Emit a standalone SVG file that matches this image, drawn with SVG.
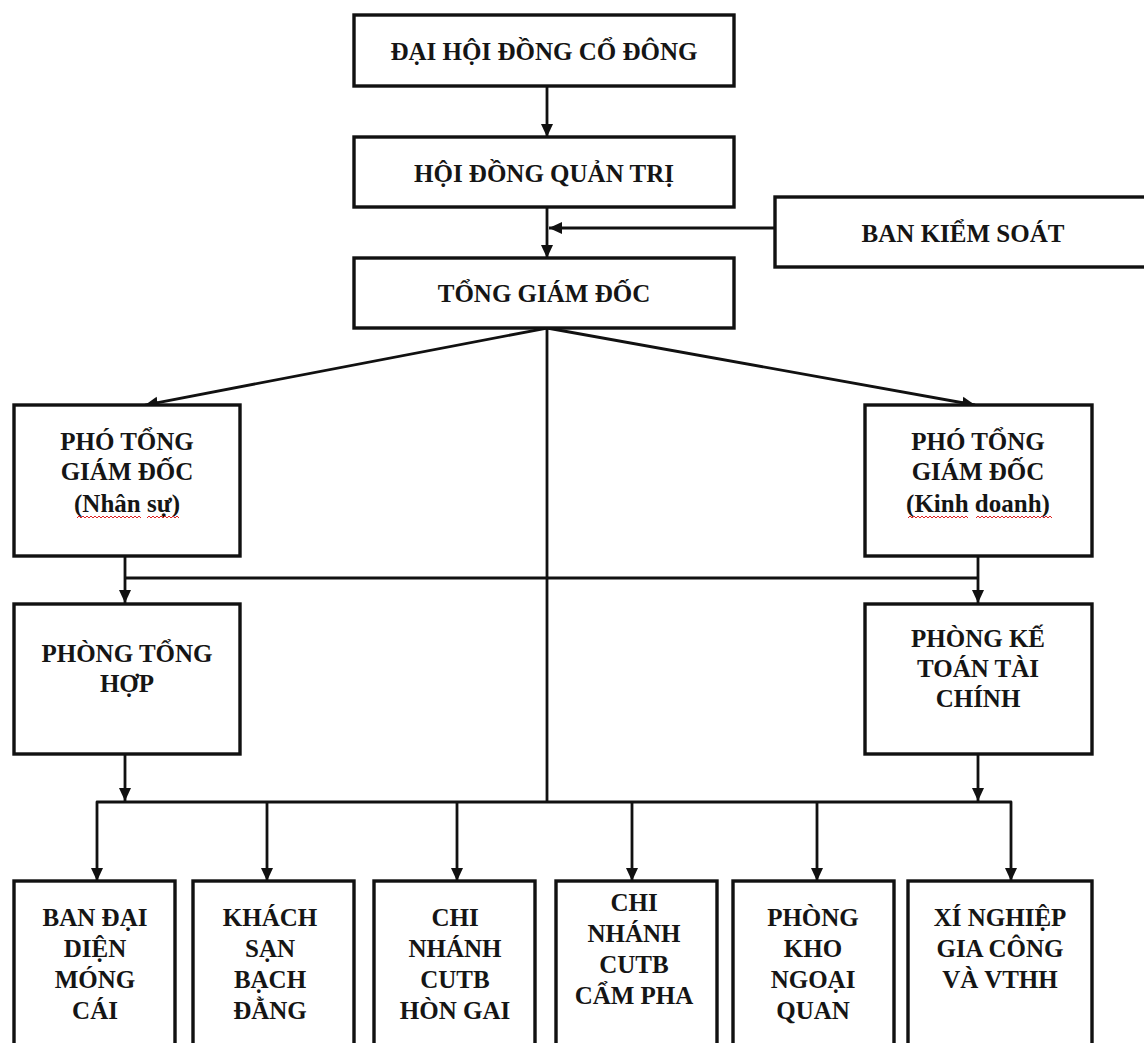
<svg xmlns="http://www.w3.org/2000/svg" width="1144" height="1043" viewBox="0 0 1144 1043">
<style>
.box{fill:#fff;stroke:#111;stroke-width:3.4}
.t{font-family:"Liberation Serif","Times New Roman",serif;font-weight:bold;font-size:25px;fill:#151515;text-anchor:middle}
.c{fill:none;stroke:#111;stroke-width:2.8;stroke-linejoin:round}
.w{fill:none;stroke:#d22;stroke-width:1}
</style>
<defs>
<marker id="ah" markerUnits="userSpaceOnUse" markerWidth="13" markerHeight="13" viewBox="0 0 13 13" refX="13" refY="6.5" orient="auto-start-reverse">
<path d="M0,0.5 L13,6.5 L0,12.5 z" fill="#111"/>
</marker>
</defs>
<rect width="1144" height="1043" fill="#fff"/>
<g id="connectors">
<path class="c" d="M547,86 V137" marker-end="url(#ah)"/>
<path class="c" d="M547,207 V258" marker-end="url(#ah)"/>
<path class="c" d="M775,228 H549" marker-end="url(#ah)"/>
<path class="c" d="M547,328 L145,405" marker-end="url(#ah)"/>
<path class="c" d="M547,328 L975,405" marker-end="url(#ah)"/>
<path class="c" d="M547,328 V802"/>
<path class="c" d="M125,578 H978"/>
<path class="c" d="M125,556 V603" marker-end="url(#ah)"/>
<path class="c" d="M978,556 V603" marker-end="url(#ah)"/>
<path class="c" d="M125,754 V801" marker-end="url(#ah)"/>
<path class="c" d="M978,754 V801" marker-end="url(#ah)"/>
<path class="c" d="M97,881 V802 H1011 V881" marker-start="url(#ah)" marker-end="url(#ah)"/>
<path class="c" d="M267,802 V881" marker-end="url(#ah)"/>
<path class="c" d="M457,802 V881" marker-end="url(#ah)"/>
<path class="c" d="M632,802 V881" marker-end="url(#ah)"/>
<path class="c" d="M817,802 V881" marker-end="url(#ah)"/>
</g>
<g id="dhdcd">
<rect class="box" x="354" y="15" width="380" height="71"/>
<text class="t" x="544" y="60">ĐẠI HỘI ĐỒNG CỔ ĐÔNG</text>
</g>
<g id="hdqt">
<rect class="box" x="354" y="137" width="380" height="70"/>
<text class="t" x="544" y="182">HỘI ĐỒNG QUẢN TRỊ</text>
</g>
<g id="bks">
<rect class="box" x="775" y="197" width="390" height="70"/>
<text class="t" x="963" y="242">BAN KIỂM SOÁT</text>
</g>
<g id="tgd">
<rect class="box" x="354" y="258" width="380" height="70"/>
<text class="t" x="544" y="302">TỔNG GIÁM ĐỐC</text>
</g>
<g id="ptgd-ns">
<rect class="box" x="14" y="405" width="226" height="151"/>
<text class="t" x="127" y="450">PHÓ TỔNG</text>
<text class="t" x="127" y="480">GIÁM ĐỐC</text>
<text class="t" x="127" y="512">(Nhân sự)</text>
<path class="w" d="M77,518 l2,-2 l2,2 l2,-2 l2,2 l2,-2 l2,2 l2,-2 l2,2 l2,-2 l2,2 l2,-2 l2,2 l2,-2 l2,2 l2,-2 l2,2 l2,-2 l2,2 l2,-2 l2,2 l2,-2 l2,2 l2,-2 l2,2 l2,-2 l2,2 l2,-2 l2,2 l2,-2 l2,2 l2,-2 l2,2 M147,518 l2,-2 l2,2 l2,-2 l2,2 l2,-2 l2,2 l2,-2 l2,2 l2,-2 l2,2 l2,-2 l2,2 l2,-2 l2,2 l2,-2 l2,2"/>
</g>
<g id="ptgd-kd">
<rect class="box" x="865" y="405" width="227" height="151"/>
<text class="t" x="978" y="450">PHÓ TỔNG</text>
<text class="t" x="978" y="480">GIÁM ĐỐC</text>
<text class="t" x="978" y="512">(Kinh doanh)</text>
<path class="w" d="M908,518 l2,-2 l2,2 l2,-2 l2,2 l2,-2 l2,2 l2,-2 l2,2 l2,-2 l2,2 l2,-2 l2,2 l2,-2 l2,2 l2,-2 l2,2 l2,-2 l2,2 l2,-2 l2,2 l2,-2 l2,2 l2,-2 l2,2 l2,-2 l2,2 l2,-2 l2,2 l2,-2 l2,2 M976,518 l2,-2 l2,2 l2,-2 l2,2 l2,-2 l2,2 l2,-2 l2,2 l2,-2 l2,2 l2,-2 l2,2 l2,-2 l2,2 l2,-2 l2,2 l2,-2 l2,2 l2,-2 l2,2 l2,-2 l2,2 l2,-2 l2,2 l2,-2 l2,2 l2,-2 l2,2 l2,-2 l2,2 l2,-2 l2,2 l2,-2 l2,2 l2,-2 l2,2 l2,-2 l2,2"/>
</g>
<g id="pth">
<rect class="box" x="14" y="604" width="226" height="150"/>
<text class="t" x="127" y="662">PHÒNG TỔNG</text>
<text class="t" x="127" y="692">HỢP</text>
</g>
<g id="pkttc">
<rect class="box" x="865" y="604" width="227" height="150"/>
<text class="t" x="978" y="647">PHÒNG KẾ</text>
<text class="t" x="978" y="677">TOÁN TÀI</text>
<text class="t" x="978" y="707">CHÍNH</text>
</g>
<g id="mongcai">
<rect class="box" x="14" y="881" width="161" height="180"/>
<text class="t" x="95" y="926">BAN ĐẠI</text>
<text class="t" x="95" y="957">DIỆN</text>
<text class="t" x="95" y="988">MÓNG</text>
<text class="t" x="95" y="1019">CÁI</text>
</g>
<g id="bachdang">
<rect class="box" x="193" y="881" width="161" height="180"/>
<text class="t" x="270" y="926">KHÁCH</text>
<text class="t" x="270" y="957">SẠN</text>
<text class="t" x="270" y="988">BẠCH</text>
<text class="t" x="270" y="1019">ĐẰNG</text>
</g>
<g id="hongai">
<rect class="box" x="374" y="881" width="161" height="180"/>
<text class="t" x="455" y="926">CHI</text>
<text class="t" x="455" y="957">NHÁNH</text>
<text class="t" x="455" y="988">CUTB</text>
<text class="t" x="455" y="1019">HÒN GAI</text>
</g>
<g id="campha">
<rect class="box" x="556" y="881" width="161" height="180"/>
<text class="t" x="634" y="911">CHI</text>
<text class="t" x="634" y="942">NHÁNH</text>
<text class="t" x="634" y="973">CUTB</text>
<text class="t" x="634" y="1004">CẨM PHA</text>
</g>
<g id="khongoaiquan">
<rect class="box" x="733" y="881" width="161" height="180"/>
<text class="t" x="813" y="926">PHÒNG</text>
<text class="t" x="813" y="957">KHO</text>
<text class="t" x="813" y="988">NGOẠI</text>
<text class="t" x="813" y="1019">QUAN</text>
</g>
<g id="xinghiep">
<rect class="box" x="908" y="881" width="184" height="180"/>
<text class="t" x="1000" y="926">XÍ NGHIỆP</text>
<text class="t" x="1000" y="957">GIA CÔNG</text>
<text class="t" x="1000" y="988">VÀ VTHH</text>
</g>
</svg>
